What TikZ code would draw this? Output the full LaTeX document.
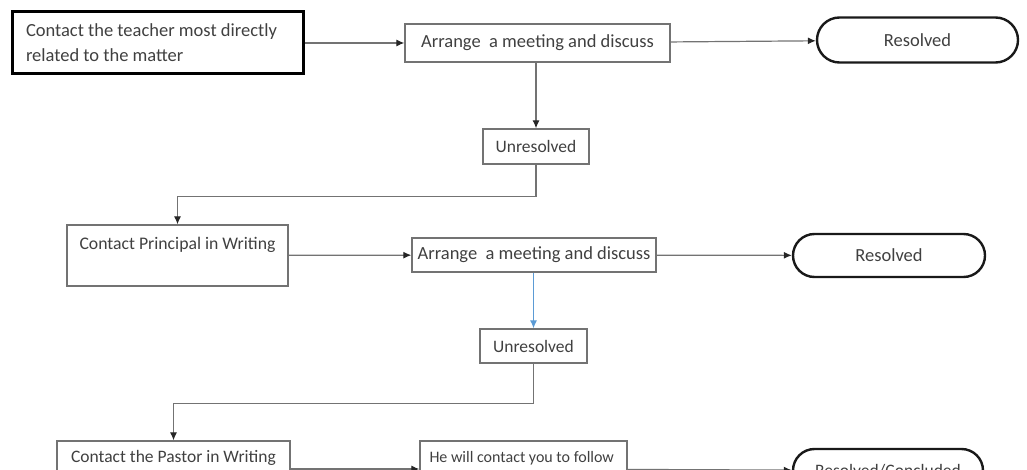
\documentclass[tikz,border=0pt]{standalone}
\usepackage{fontspec}
\setmainfont{Carlito}
\usepackage{xcolor}
\usetikzlibrary{shapes.misc,arrows.meta}
\definecolor{linkblue}{RGB}{91,155,213}

\begin{document}
\begin{tikzpicture}[x = 1pt, y = -1pt,
		every node/.style = {font = \fontsize{17.5}{25}\selectfont, text = black!75},
		stepbox/.style = {draw = black!55, line width = 1.3pt, inner sep = 0pt},
		endbox/.style = {draw = black!90, line width = 2.4pt, rounded rectangle, inner sep = 0pt},
		link/.style = {-{Latex[color = black!85, length = 8pt, width = 7pt]}, draw = black!55, line width = 1.2pt},
		bluelink/.style = {link, -{Latex[length = 8pt, width = 7pt]}, draw = linkblue}];
				\useasboundingbox (0,0) rectangle (1027,470);
				\node[stepbox, draw = black, line width = 3pt, minimum width = 291, minimum height = 62, text width = 263, align = flush left, font = \fontsize{18.5}{25}\selectfont] (teacher) at (157.5,43) {Contact the teacher most directly\\related to the matter};
				\node[stepbox, minimum width = 265, minimum height = 38, font = \fontsize{18.5}{25}\selectfont] (meet1) at (537.5,43) {Arrange~ a meeting and discuss};
				\node[endbox, minimum width = 201, minimum height = 45, font = \fontsize{18.5}{25}\selectfont] (res1) at (917.5,40) {Resolved};
				\node[stepbox, minimum width = 106, minimum height = 35] (unres1) at (536,146.5) {Unresolved};
				\node[stepbox, minimum width = 221, minimum height = 61, text height = 12pt, text depth = 25pt, font = \fontsize{17.7}{25}\selectfont] (principal) at (177.5,255.5) {Contact Principal in Writing};
				\node[stepbox, minimum width = 244, minimum height = 34, font = \fontsize{18.5}{25}\selectfont] (meet2) at (534,255) {Arrange~ a meeting and discuss};
				\node[endbox, minimum width = 192, minimum height = 43, font = \fontsize{18.5}{25}\selectfont] (res2) at (889,255.5) {Resolved};
				\node[stepbox, minimum width = 107, minimum height = 34] (unres2) at (533.5,346) {Unresolved};
				\node[stepbox, minimum width = 233, minimum height = 56, text height = 12pt, text depth = 25pt] (pastor) at (173.5,469) {Contact the Pastor in Writing};
				\node[stepbox, minimum width = 207, minimum height = 56, text width = 188, text height = 12pt, text depth = 25pt, align = flush left, font = \fontsize{16}{25}\selectfont] (follow) at (523.5,469) {He will contact you to follow};
				\node[endbox, minimum width = 190, minimum height = 43] (res3) at (888,470.5) {Resolved/Concluded};
				\draw[link] (teacher) -- (meet1);
				\draw[link] (meet1) -- (res1);
				\draw[link] (unres1.north |- meet1.south) -- (unres1);
				\draw[link] (unres1.south) -- ++(0,32) -| (principal.north);
				\draw[link] (principal) -- (meet2);
				\draw[link] (meet2) -- (res2);
				\draw[bluelink] (unres2.north |- meet2.south) -- (unres2);
				\draw[link] (unres2.south) -- ++(0,40) -| (pastor.north);
				\draw[link] (pastor) -- (follow);
				\draw[link] (follow) -- (res3);
			\end{tikzpicture}
\end{document}
